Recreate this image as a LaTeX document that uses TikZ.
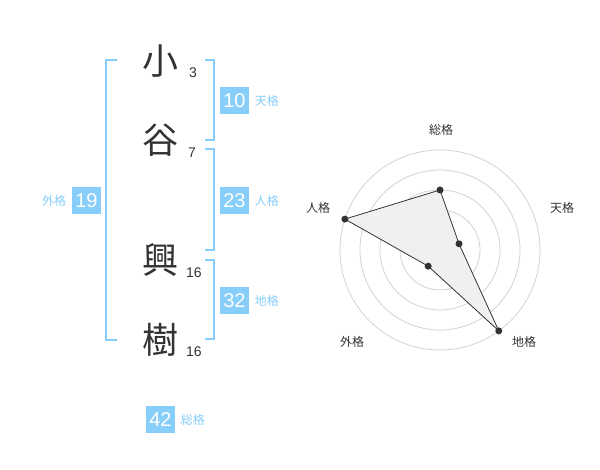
\documentclass[tikz,border=0pt]{standalone}
\usepackage{fontspec}
\setmainfont{Liberation Sans}
\newfontfamily\jp{Noto Sans CJK JP}
\usetikzlibrary{positioning}
\definecolor{skyblue}{HTML}{87CEFA}
\definecolor{inkgray}{HTML}{333333}
\definecolor{gridgray}{HTML}{D2D2D2}
\definecolor{fillgray}{HTML}{F0F0F0}
\definecolor{hubgray}{HTML}{C8C8C8}

\begin{document}
\begin{tikzpicture}[
    x=0.75pt, y=-0.75pt,
    kanji/.style={font=\jp\fontsize{27}{27}\selectfont, text=inkgray, inner sep=0pt},
    strokes/.style={font=\fontsize{10.5}{10.5}\selectfont, text=inkgray, inner sep=0pt},
    score box/.style={fill=skyblue, text=white, minimum width=21.75pt, minimum height=20.25pt, inner sep=0pt, font=\fontsize{15}{15}\selectfont},
    score label/.style={font=\jp\fontsize{9}{9}\selectfont, text=skyblue, inner sep=0pt},
    bracket/.style={draw=skyblue, line width=1.5pt},
    ring/.style={draw=gridgray, line width=0.6pt},
    axis label/.style={font=\jp\fontsize{9}{9}\selectfont, text=inkgray, inner sep=0pt},
    point/.style={circle, fill=inkgray, inner sep=0pt, minimum size=5.25pt},
    shape line/.style={draw=inkgray, line width=0.6pt, fill=fillgray}
]
\useasboundingbox (0,0) rectangle (600,470);

% Name
\node[kanji] (C1) at (160,61) {小};
\node[kanji] (C2) at (160,140) {谷};
\node[kanji] (C3) at (160,260) {興};
\node[kanji] (C4) at (160,340) {樹};

% Stroke counts
\node[strokes] (S1) at (193,73) {3};
\node[strokes] (S2) at (192,153) {7};
\node[strokes] (S3) at (194,273) {16};
\node[strokes] (S4) at (194,352) {16};

% Brackets
\draw[bracket] (117,60) -- (106,60) -- (106,340) -- (117,340);
\draw[bracket] (205,60) -- (214,60) -- (214,140) -- (205,140);
\draw[bracket] (205,149) -- (214,149) -- (214,250) -- (205,250);
\draw[bracket] (205,260) -- (214,260) -- (214,339) -- (205,339);

% Scores
\node[score box] (Ten) at (234.5,100.5) {10};
\node[score label, right=4pt of Ten] (TenL) {天格};
\node[score box] (Jin) at (234.5,200.5) {23};
\node[score label, right=4pt of Jin] (JinL) {人格};
\node[score box] (Chi) at (234.5,300.5) {32};
\node[score label, right=4pt of Chi] (ChiL) {地格};
\node[score box] (Gai) at (86.5,200.5) {19};
\node[score label, left=4pt of Gai] (GaiL) {外格};
\node[score box] (Sou) at (160.5,419.5) {42};
\node[score label, right=4pt of Sou] (SouL) {総格};

% Radar grid
\coordinate (hub) at (440,250);
\draw[ring] (hub) circle[radius=15pt];
\draw[ring] (hub) circle[radius=30pt];
\draw[ring] (hub) circle[radius=45pt];
\draw[ring] (hub) circle[radius=60pt];
\draw[ring] (hub) circle[radius=75pt];
\fill[hubgray] (hub) circle[radius=3pt];

% Radar axes
\node[axis label] (aSou) at (441,130) {総格};
\node[axis label] (aTen) at (562,208) {天格};
\node[axis label] (aChi) at (524,342) {地格};
\node[axis label] (aGai) at (352,342) {外格};
\node[axis label] (aJin) at (318,208) {人格};

% Values
\coordinate (vSou) at (440,190);
\coordinate (vTen) at (459,243.8);
\coordinate (vChi) at (498.8,330.9);
\coordinate (vGai) at (428.2,266.2);
\coordinate (vJin) at (344.9,219.1);
\draw[shape line] (vSou) -- (vTen) -- (vChi) -- (vGai) -- (vJin) -- cycle;
\node[point] (pSou) at (vSou) {};
\node[point] (pTen) at (vTen) {};
\node[point] (pChi) at (vChi) {};
\node[point] (pGai) at (vGai) {};
\node[point] (pJin) at (vJin) {};

\end{tikzpicture}
\end{document}
